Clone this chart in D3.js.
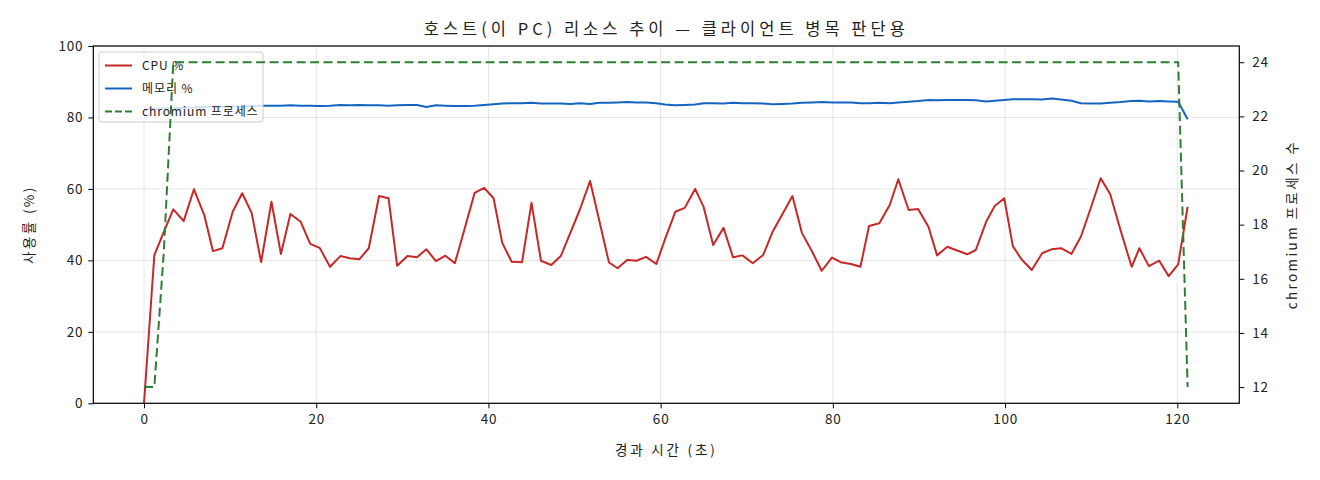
<!DOCTYPE html>
<html>
<head>
<meta charset="utf-8">
<script src="https://cdn.jsdelivr.net/npm/d3@7"></script>
<style>
  html, body { margin: 0; padding: 0; background: #fff; }
  svg { display: block; }
  text { font-family: "Noto Sans CJK KR", "Noto Sans", sans-serif; fill: #222; }
</style>
</head>
<body>
<svg id="chart" width="1320" height="480"></svg>
<script>
// ---- data ----
const times = [0, 1.2, 2.3, 3.4, 4.6, 5.8, 7.0, 8.0, 9.1, 10.3, 11.4, 12.5, 13.6, 14.8, 15.9, 17.0, 18.2, 19.3, 20.4, 21.6,
  22.8, 23.9, 25.0, 26.1, 27.3, 28.4, 29.4, 30.6, 31.7, 32.8, 33.9, 35.0, 36.1, 37.3, 38.4, 39.5, 40.6, 41.6, 42.7, 43.9,
  45.0, 46.1, 47.3, 48.4, 49.5, 50.6, 51.8, 52.9, 54.0, 55.0, 56.1, 57.2, 58.3, 59.5, 60.5, 61.7, 62.8, 64.0, 65.0, 66.1,
  67.3, 68.4, 69.5, 70.7, 71.9, 73.0, 74.2, 75.3, 76.4, 77.6, 78.7, 79.9, 80.9, 82.1, 83.2, 84.2, 85.4, 86.6, 87.6, 88.8,
  89.9, 91.1, 92.1, 93.3, 94.5, 95.6, 96.6, 97.8, 98.8, 99.9, 100.9, 101.9, 103.1, 104.3, 105.4, 106.5, 107.7, 108.8, 110.0, 111.1,
  112.2, 113.4, 114.7, 115.6, 116.7, 117.9, 119.0, 120.1, 121.2];

const cpu = [0, 41.5, 48.0, 54.3, 51.0, 59.9, 52.7, 42.6, 43.4, 53.6, 58.8, 53.3, 39.5, 56.4, 41.8, 53.0, 50.8, 44.6, 43.5, 38.2,
  41.2, 40.6, 40.3, 43.4, 58.0, 57.4, 38.5, 41.2, 40.9, 43.1, 39.8, 41.3, 39.2, 49.4, 58.9, 60.3, 57.4, 44.9, 39.6, 39.5,
  56.1, 39.9, 38.7, 41.2, 47.6, 54.1, 62.2, 50.8, 39.4, 37.8, 40.1, 39.9, 41.0, 39.0, 45.9, 53.6, 54.7, 60.0, 54.9, 44.3,
  49.1, 40.9, 41.4, 39.2, 41.5, 48.0, 53.2, 58.0, 47.7, 42.4, 37.1, 40.8, 39.5, 39.0, 38.2, 49.6, 50.4, 55.5, 62.7, 54.1,
  54.4, 49.4, 41.4, 43.8, 42.7, 41.7, 42.9, 50.8, 55.2, 57.4, 44.0, 40.3, 37.3, 42.0, 43.1, 43.4, 41.8, 46.6, 55.0, 63.0,
  58.6, 48.5, 38.2, 43.4, 38.4, 39.9, 35.6, 38.9, 55.0];

const mem = [82.3, 82.4, 82.5, 82.6, 82.7, 82.8, 82.9, 83.0, 83.0, 83.1, 83.1, 83.2, 83.3, 83.3, 83.3, 83.4, 83.3, 83.3, 83.2, 83.3,
  83.5, 83.4, 83.5, 83.4, 83.4, 83.3, 83.4, 83.5, 83.5, 82.9, 83.4, 83.3, 83.2, 83.2, 83.3, 83.5, 83.7, 83.9, 84.0, 84.0,
  84.1, 83.9, 83.9, 83.9, 83.8, 84.0, 83.8, 84.1, 84.1, 84.2, 84.3, 84.2, 84.2, 84.0, 83.6, 83.4, 83.5, 83.6, 84.0, 84.0,
  83.9, 84.1, 84.0, 84.0, 83.9, 83.7, 83.8, 83.9, 84.1, 84.2, 84.3, 84.2, 84.2, 84.2, 84.0, 84.0, 84.1, 84.0, 84.2, 84.4,
  84.6, 84.9, 84.8, 84.9, 84.9, 84.9, 84.8, 84.5, 84.7, 84.9, 85.1, 85.1, 85.1, 85.0, 85.3, 85.0, 84.7, 84.0, 83.9, 83.9,
  84.1, 84.3, 84.6, 84.7, 84.5, 84.6, 84.5, 84.4, 79.5];

const procs = [12, 12, 17, 24, 24, 24, 24, 24, 24, 24, 24, 24, 24, 24, 24, 24, 24, 24, 24, 24,
  24, 24, 24, 24, 24, 24, 24, 24, 24, 24, 24, 24, 24, 24, 24, 24, 24, 24, 24, 24,
  24, 24, 24, 24, 24, 24, 24, 24, 24, 24, 24, 24, 24, 24, 24, 24, 24, 24, 24, 24,
  24, 24, 24, 24, 24, 24, 24, 24, 24, 24, 24, 24, 24, 24, 24, 24, 24, 24, 24, 24,
  24, 24, 24, 24, 24, 24, 24, 24, 24, 24, 24, 24, 24, 24, 24, 24, 24, 24, 24, 24,
  24, 24, 24, 24, 24, 24, 24, 24, 12];

const xTicks = [0, 20, 40, 60, 80, 100, 120];
const yTicks = [0, 20, 40, 60, 80, 100];
const y2Ticks = [12, 14, 16, 18, 20, 22, 24];

const titleText = "호스트(이 PC) 리소스 추이 — 클라이언트 병목 판단용";
const xLabel = "경과 시간 (초)";
const yLabel = "사용률 (%)";
const y2Label = "chromium 프로세스 수";
const seriesNames = ["CPU %", "메모리 %", "chromium 프로세스"];
const colors = ["#c62828", "#1565c0", "#2e7d32"];

// ---- layout ----
const L = 93.3, R = 1239.3, T = 46, B = 403.3;
const svg = d3.select("#chart");

const x = d3.scaleLinear().domain([-5.89, 127.2]).range([L, R]);
const y = d3.scaleLinear().domain([0, 100]).range([B, T]);
const y2 = d3.scaleLinear().domain([11.4, 24.6]).range([B, T]);

// grid
const grid = svg.append("g").attr("stroke", "#000").attr("stroke-opacity", 0.1).attr("stroke-width", 1);
xTicks.forEach(t => grid.append("line").attr("x1", x(t)).attr("x2", x(t)).attr("y1", T).attr("y2", B));
yTicks.forEach(t => grid.append("line").attr("x1", L).attr("x2", R).attr("y1", y(t)).attr("y2", y(t)));

svg.append("defs").append("clipPath").attr("id", "plotclip")
  .append("rect").attr("x", L).attr("y", T).attr("width", R - L).attr("height", B - T);

const idx = d3.range(times.length);
const lineCpu = d3.line().x(i => x(times[i])).y(i => y(cpu[i]));
const lineMem = d3.line().x(i => x(times[i])).y(i => y(mem[i]));
const lineProc = d3.line().x(i => x(times[i])).y(i => y2(procs[i]));

const plot = svg.append("g").attr("clip-path", "url(#plotclip)");
plot.append("path").datum(idx).attr("d", lineCpu).attr("fill", "none")
  .attr("stroke", colors[0]).attr("stroke-width", 2).attr("stroke-linejoin", "round");
plot.append("path").datum(idx).attr("d", lineMem).attr("fill", "none")
  .attr("stroke", colors[1]).attr("stroke-width", 2).attr("stroke-linejoin", "round");

// legend (belongs to primary axes)
const lg = svg.append("g").attr("transform", "translate(99,52)");
lg.append("rect").attr("x", 0).attr("y", 0).attr("width", 164).attr("height", 70).attr("rx", 3)
  .attr("fill", "#fff").attr("fill-opacity", 0.8).attr("stroke", "#ccc").attr("stroke-width", 1);
seriesNames.forEach((n, k) => {
  const yy = 13.5 + k * 23;
  const ln = lg.append("line").attr("x1", 6).attr("x2", 33).attr("y1", yy).attr("y2", yy)
    .attr("stroke", colors[k]).attr("stroke-width", 2);
  if (k === 2) ln.attr("stroke-dasharray", "7,3");
  lg.append("text").attr("x", 43).attr("y", yy + 4).attr("font-size", 12)
    .attr("letter-spacing", 0.9).text(n);
});

// secondary axis line (drawn on top)
const plot2 = svg.append("g").attr("clip-path", "url(#plotclip)");
plot2.append("path").datum(idx).attr("d", lineProc).attr("fill", "none")
  .attr("stroke", colors[2]).attr("stroke-width", 2).attr("stroke-dasharray", "9,4.5");

// axes
const ax = d3.axisBottom(x).tickValues(xTicks).tickSize(5).tickPadding(6).tickFormat(d3.format("d"));
const ay = d3.axisLeft(y).tickValues(yTicks).tickSize(5).tickPadding(5).tickFormat(d3.format("d"));
const ay2 = d3.axisRight(y2).tickValues(y2Ticks).tickSize(5).tickPadding(8).tickFormat(d3.format("d"));

function style(g) {
  g.select(".domain").remove();
  g.selectAll("line").attr("stroke", "#000").attr("stroke-width", 1);
  g.selectAll("text").attr("font-size", 13.5).attr("fill", "#222").attr("letter-spacing", 0.8)
    .style("font-family", '"Noto Sans CJK KR", sans-serif');
}
svg.append("g").attr("transform", `translate(0,${B})`).call(ax).call(style);
svg.append("g").attr("transform", `translate(${L},0)`).call(ay).call(style);
svg.append("g").attr("transform", `translate(${R},0)`).call(ay2).call(style);

// frame
svg.append("rect").attr("x", L).attr("y", T).attr("width", R - L).attr("height", B - T)
  .attr("fill", "none").attr("stroke", "#000").attr("stroke-width", 1.2);

// labels
svg.append("text").attr("x", (L + R) / 2).attr("y", 35).attr("text-anchor", "middle")
  .attr("font-size", 16.5).attr("letter-spacing", 4).text(titleText);
svg.append("text").attr("x", (L + R) / 2).attr("y", 455).attr("text-anchor", "middle")
  .attr("font-size", 13.5).attr("letter-spacing", 2.8).text(xLabel);
svg.append("text").attr("transform", `translate(34,${(T + B) / 2}) rotate(-90)`).attr("text-anchor", "middle")
  .attr("font-size", 13.5).attr("letter-spacing", 2.4).text(yLabel);
svg.append("text").attr("transform", `translate(1297,${(T + B) / 2}) rotate(-90)`).attr("text-anchor", "middle")
  .attr("font-size", 13.5).attr("letter-spacing", 2.4).text(y2Label);
</script>
</body>
</html>
